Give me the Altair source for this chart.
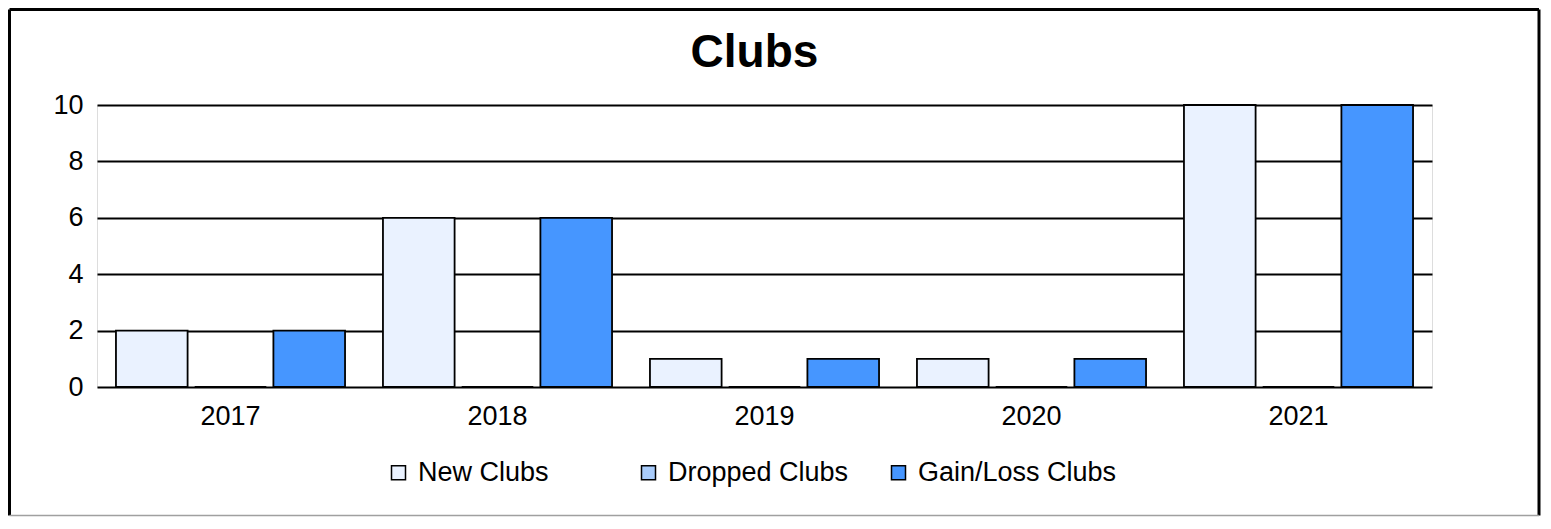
import altair as alt
import pandas as pd

years = ["2017", "2018", "2019", "2020", "2021"]
series = ["New Clubs", "Dropped Clubs", "Gain/Loss Clubs"]
new_clubs = [2, 6, 1, 1, 10]
dropped_clubs = [0, 0, 0, 0, 0]
gain_loss_clubs = [2, 6, 1, 1, 10]
colors = ["#EAF2FF", "#A9CCFB", "#4696FF"]
y_ticks = [0, 2, 4, 6, 8, 10]
title_text = "Clubs"

rows = []
for i, y in enumerate(years):
    rows.append({"year": y, "series": series[0], "value": new_clubs[i]})
    rows.append({"year": y, "series": series[1], "value": dropped_clubs[i]})
    rows.append({"year": y, "series": series[2], "value": gain_loss_clubs[i]})
df = pd.DataFrame(rows)

FONT = "Liberation Sans"

bars = alt.Chart(df).mark_bar(stroke="black", strokeWidth=1.8).encode(
    x=alt.X("year:N", sort=years, title=None,
            scale=alt.Scale(paddingInner=0.142, paddingOuter=0.071),
            axis=alt.Axis(labelAngle=0, labelFontSize=27, labelFont=FONT, labelColor="black",
                          ticks=False, domain=False, labelPadding=16, grid=False)),
    xOffset=alt.XOffset("series:N", sort=series,
                        scale=alt.Scale(paddingInner=0.09, paddingOuter=0)),
    y=alt.Y("value:Q", title=None,
            scale=alt.Scale(domain=[0, 10]),
            axis=alt.Axis(values=y_ticks, labelFontSize=27, labelFont=FONT, labelColor="black",
                          ticks=False, domain=False, labelPadding=14,
                          grid=True, gridColor="black", gridWidth=2, gridOpacity=1)),
    color=alt.Color("series:N", sort=series,
                    scale=alt.Scale(domain=series, range=colors),
                    legend=alt.Legend(title=None, orient="none", legendX=288, legendY=354,
                                      direction="horizontal", columns=3, gridAlign="all",
                                      columnPadding=18, symbolType="square", symbolSize=196,
                                      symbolStrokeColor="black", symbolStrokeWidth=1.5,
                                      symbolOpacity=1, labelLimit=0,
                                      labelFontSize=27, labelFont=FONT, labelColor="black",
                                      labelOffset=6)),
)

frame_df = pd.DataFrame({"a": [0]})
title_mark = alt.Chart(frame_df).mark_text(
    text=title_text, font=FONT, fontSize=46, fontWeight="bold", color="black",
    align="center", baseline="alphabetic"
).encode(x=alt.value(657.5), y=alt.value(-38))

frame_left = alt.Chart(frame_df).mark_rule(color="black", strokeWidth=3).encode(
    x=alt.value(-87.5), x2=alt.value(-87.5), y=alt.value(-95.5), y2=alt.value(410.5)
)
frame_top = alt.Chart(frame_df).mark_rule(color="black", strokeWidth=3).encode(
    x=alt.value(-87.5), x2=alt.value(1442), y=alt.value(-95.5), y2=alt.value(-95.5)
)
frame_right = alt.Chart(frame_df).mark_rule(color="black", strokeWidth=3).encode(
    x=alt.value(1442), x2=alt.value(1442), y=alt.value(-95.5), y2=alt.value(410.5)
)
frame_bottom = alt.Chart(frame_df).mark_rule(color="#A0A0A0", strokeWidth=1.5).encode(
    x=alt.value(-87.5), x2=alt.value(1442), y=alt.value(410.5), y2=alt.value(410.5)
)

chart = alt.layer(bars, title_mark, frame_left, frame_top, frame_right, frame_bottom).properties(
    width=1335,
    height=282,
    autosize=alt.AutoSizeParams(type="none"),
    padding={"left": 89, "top": 97, "right": 110, "bottom": 130},
).configure_view(
    stroke="black", strokeWidth=2
).configure(background="white")

chart.save("out.html", embed_options={"renderer": "svg", "actions": False})
